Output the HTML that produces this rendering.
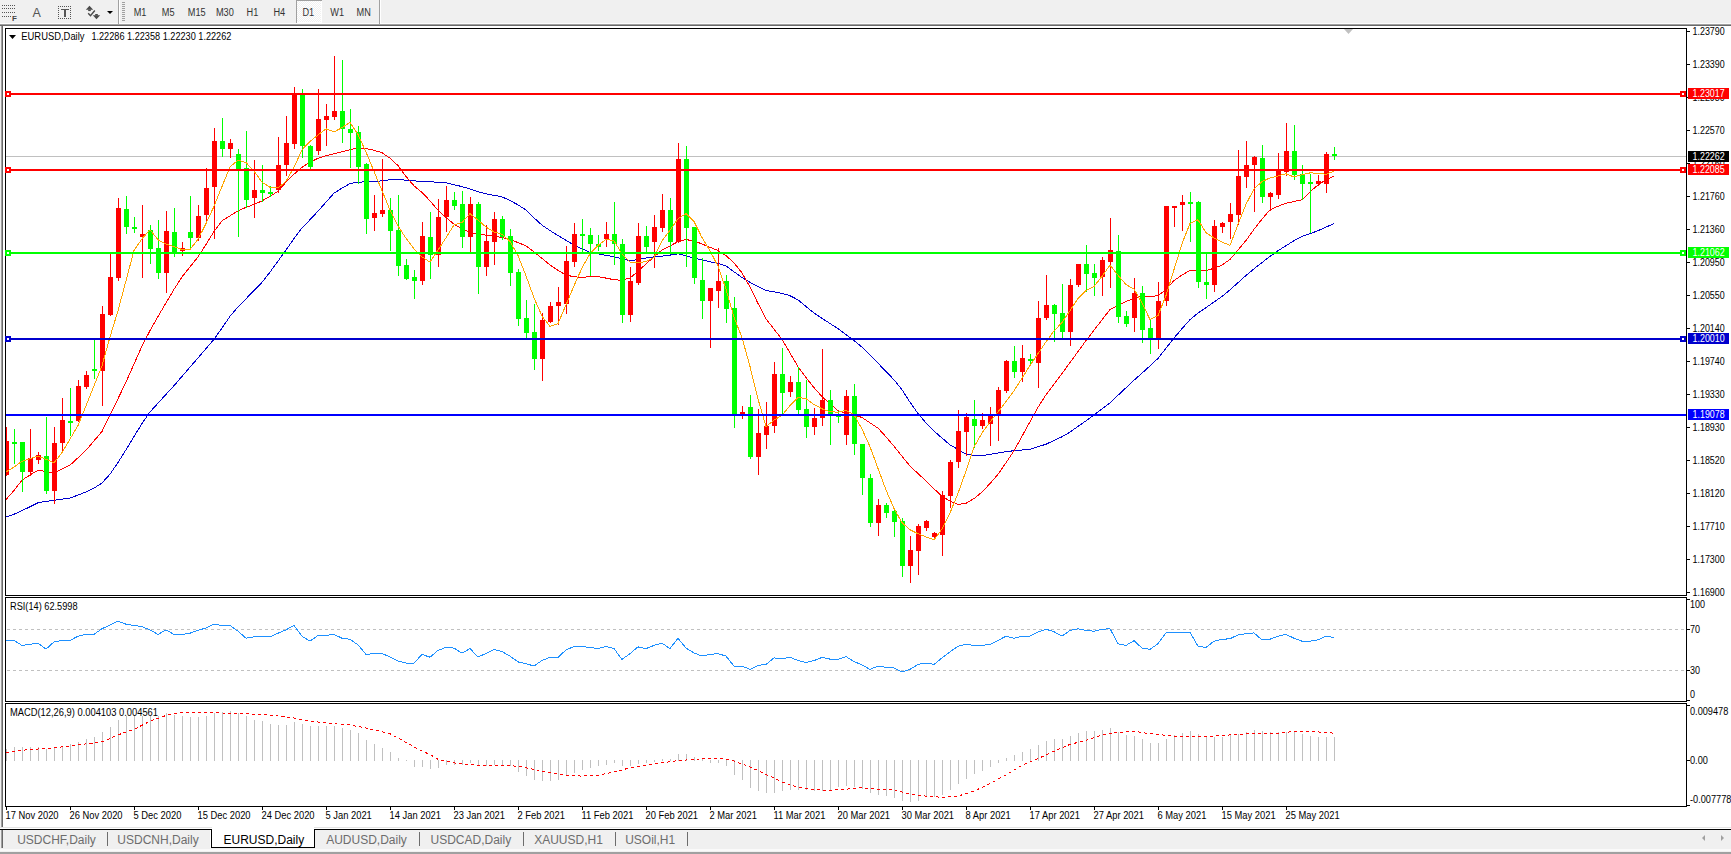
<!DOCTYPE html>
<html><head><meta charset="utf-8"><title>EURUSD,Daily</title>
<style>html,body{margin:0;padding:0;width:1731px;height:854px;overflow:hidden;background:#f0f0f0}</style>
</head><body>
<svg width="1731" height="854" viewBox="0 0 1731 854" style="display:block"><rect x="0" y="0" width="1731" height="854" fill="#f0f0f0"/><g shape-rendering="crispEdges"><rect x="0" y="23" width="1731" height="1" fill="#fcfcfc"/><rect x="0" y="24" width="1731" height="1" fill="#a0a0a0"/><rect x="0" y="25" width="1731" height="1" fill="#696969"/><rect x="3" y="26" width="1728" height="801" fill="#ffffff"/><rect x="1" y="26" width="1" height="801" fill="#a0a0a0"/><rect x="2" y="26" width="1" height="801" fill="#696969"/><rect x="0" y="827" width="1731" height="1" fill="#e3e3e3"/><rect x="0" y="828" width="1731" height="1" fill="#ffffff"/><rect x="118" y="0" width="1" height="24" fill="#a0a0a0"/><rect x="119" y="0" width="1" height="24" fill="#ffffff"/><rect x="379" y="0" width="1" height="24" fill="#a0a0a0"/><rect x="380" y="0" width="1" height="24" fill="#ffffff"/><rect x="122" y="2" width="3" height="1" fill="#a0a0a0"/><rect x="122" y="4" width="3" height="1" fill="#a0a0a0"/><rect x="122" y="6" width="3" height="1" fill="#a0a0a0"/><rect x="122" y="8" width="3" height="1" fill="#a0a0a0"/><rect x="122" y="10" width="3" height="1" fill="#a0a0a0"/><rect x="122" y="12" width="3" height="1" fill="#a0a0a0"/><rect x="122" y="14" width="3" height="1" fill="#a0a0a0"/><rect x="122" y="16" width="3" height="1" fill="#a0a0a0"/><rect x="122" y="18" width="3" height="1" fill="#a0a0a0"/><rect x="122" y="20" width="3" height="1" fill="#a0a0a0"/><defs><pattern id="chk" x="0" y="0" width="2" height="2" patternUnits="userSpaceOnUse"><rect width="2" height="2" fill="#f0f0f0"/><rect width="1" height="1" fill="#ffffff"/><rect x="1" y="1" width="1" height="1" fill="#ffffff"/></pattern></defs><rect x="297" y="1" width="24" height="21" fill="url(#chk)"/><rect x="321" y="0" width="1" height="23" fill="#ffffff"/><rect x="297" y="22" width="25" height="1" fill="#ffffff"/><rect x="296" y="0" width="26" height="1" fill="#a0a0a0"/><rect x="296" y="0" width="1" height="23" fill="#a0a0a0"/></g><g fill="#555555" shape-rendering="crispEdges"><rect x="2" y="5" width="1" height="1"/><rect x="4" y="5" width="1" height="1"/><rect x="6" y="5" width="1" height="1"/><rect x="8" y="5" width="1" height="1"/><rect x="10" y="5" width="1" height="1"/><rect x="12" y="5" width="1" height="1"/><rect x="14" y="5" width="1" height="1"/><rect x="2" y="8" width="1" height="1"/><rect x="4" y="8" width="1" height="1"/><rect x="6" y="8" width="1" height="1"/><rect x="8" y="8" width="1" height="1"/><rect x="10" y="8" width="1" height="1"/><rect x="12" y="8" width="1" height="1"/><rect x="14" y="8" width="1" height="1"/><rect x="2" y="12" width="1" height="1"/><rect x="4" y="12" width="1" height="1"/><rect x="6" y="12" width="1" height="1"/><rect x="8" y="12" width="1" height="1"/><rect x="10" y="12" width="1" height="1"/><rect x="12" y="12" width="1" height="1"/><rect x="14" y="12" width="1" height="1"/><rect x="2" y="16" width="1" height="1"/><rect x="4" y="16" width="1" height="1"/><rect x="6" y="16" width="1" height="1"/><rect x="8" y="16" width="1" height="1"/><rect x="10" y="16" width="1" height="1"/></g><text x="12" y="21" font-family='"Liberation Sans", sans-serif' font-size="8" font-weight="bold" fill="#444">F</text><text x="32.5" y="17" font-family='"Liberation Sans", sans-serif' font-size="12.5" fill="#555">A</text><g fill="#555555" shape-rendering="crispEdges"><rect x="58" y="6" width="1" height="1"/><rect x="58" y="18" width="1" height="1"/><rect x="60" y="6" width="1" height="1"/><rect x="60" y="18" width="1" height="1"/><rect x="62" y="6" width="1" height="1"/><rect x="62" y="18" width="1" height="1"/><rect x="64" y="6" width="1" height="1"/><rect x="64" y="18" width="1" height="1"/><rect x="66" y="6" width="1" height="1"/><rect x="66" y="18" width="1" height="1"/><rect x="68" y="6" width="1" height="1"/><rect x="68" y="18" width="1" height="1"/><rect x="70" y="6" width="1" height="1"/><rect x="70" y="18" width="1" height="1"/><rect x="58" y="6" width="1" height="1"/><rect x="70" y="6" width="1" height="1"/><rect x="58" y="8" width="1" height="1"/><rect x="70" y="8" width="1" height="1"/><rect x="58" y="10" width="1" height="1"/><rect x="70" y="10" width="1" height="1"/><rect x="58" y="12" width="1" height="1"/><rect x="70" y="12" width="1" height="1"/><rect x="58" y="14" width="1" height="1"/><rect x="70" y="14" width="1" height="1"/><rect x="58" y="16" width="1" height="1"/><rect x="70" y="16" width="1" height="1"/><rect x="58" y="18" width="1" height="1"/><rect x="70" y="18" width="1" height="1"/><rect x="61" y="9" width="8" height="1.4"/><rect x="64.2" y="9" width="1.6" height="8"/></g><g fill="#4a4a4a"><path d="M85.8 9.8 L89.5 5.8 L93.2 9.8 Z"/><rect x="88.2" y="9.5" width="2.6" height="1.6"/><path d="M92.8 15.2 L100.2 15.2 L96.5 19.2 Z"/><rect x="95.2" y="14" width="2.6" height="1.6"/></g><path d="M88.2 13.3 L90.5 15.8 L94.8 10.5" stroke="#4a4a4a" stroke-width="1.4" fill="none"/><path d="M107 11 L113 11 L110 14 Z" fill="#000"/><text x="133.7" y="16" font-family='"Liberation Sans", sans-serif' font-size="10.0" fill="#333333" textLength="12.75" lengthAdjust="spacingAndGlyphs">M1</text><text x="161.8" y="16" font-family='"Liberation Sans", sans-serif' font-size="10.0" fill="#333333" textLength="12.75" lengthAdjust="spacingAndGlyphs">M5</text><text x="187.8" y="16" font-family='"Liberation Sans", sans-serif' font-size="10.0" fill="#333333" textLength="17.86" lengthAdjust="spacingAndGlyphs">M15</text><text x="215.9" y="16" font-family='"Liberation Sans", sans-serif' font-size="10.0" fill="#333333" textLength="17.86" lengthAdjust="spacingAndGlyphs">M30</text><text x="246.6" y="16" font-family='"Liberation Sans", sans-serif' font-size="10.0" fill="#333333" textLength="11.73" lengthAdjust="spacingAndGlyphs">H1</text><text x="273.4" y="16" font-family='"Liberation Sans", sans-serif' font-size="10.0" fill="#333333" textLength="11.73" lengthAdjust="spacingAndGlyphs">H4</text><text x="302.5" y="16" font-family='"Liberation Sans", sans-serif' font-size="10.0" fill="#333333" textLength="11.73" lengthAdjust="spacingAndGlyphs">D1</text><text x="330.3" y="16" font-family='"Liberation Sans", sans-serif' font-size="10.0" fill="#333333" textLength="13.77" lengthAdjust="spacingAndGlyphs">W1</text><text x="356.6" y="16" font-family='"Liberation Sans", sans-serif' font-size="10.0" fill="#333333" textLength="14.28" lengthAdjust="spacingAndGlyphs">MN</text><g shape-rendering="crispEdges" fill="#000"><rect x="5" y="28" width="1682" height="1"/><rect x="5" y="595" width="1682" height="1"/><rect x="5" y="28" width="1" height="568"/><rect x="1686" y="28" width="1" height="568"/><rect x="5" y="597" width="1682" height="1"/><rect x="5" y="701" width="1682" height="1"/><rect x="5" y="597" width="1" height="105"/><rect x="1686" y="597" width="1" height="105"/><rect x="5" y="703" width="1682" height="1"/><rect x="5" y="806" width="1682" height="1"/><rect x="5" y="703" width="1" height="104"/><rect x="1686" y="703" width="1" height="104"/></g><path d="M1344 29 L1353 29 L1348.5 34 Z" fill="#c0c0c0"/><g shape-rendering="crispEdges" fill="#000"><rect x="1687" y="31" width="3" height="1"/><rect x="1687" y="64" width="3" height="1"/><rect x="1687" y="97" width="3" height="1"/><rect x="1687" y="130" width="3" height="1"/><rect x="1687" y="163" width="3" height="1"/><rect x="1687" y="196" width="3" height="1"/><rect x="1687" y="229" width="3" height="1"/><rect x="1687" y="262" width="3" height="1"/><rect x="1687" y="295" width="3" height="1"/><rect x="1687" y="328" width="3" height="1"/><rect x="1687" y="361" width="3" height="1"/><rect x="1687" y="394" width="3" height="1"/><rect x="1687" y="427" width="3" height="1"/><rect x="1687" y="460" width="3" height="1"/><rect x="1687" y="493" width="3" height="1"/><rect x="1687" y="526" width="3" height="1"/><rect x="1687" y="559" width="3" height="1"/><rect x="1687" y="592" width="3" height="1"/></g><text x="1692.5" y="35" font-family='"Liberation Sans", sans-serif' font-size="10.0" fill="#000" textLength="32.20" lengthAdjust="spacingAndGlyphs">1.23790</text><text x="1692.5" y="68" font-family='"Liberation Sans", sans-serif' font-size="10.0" fill="#000" textLength="32.20" lengthAdjust="spacingAndGlyphs">1.23390</text><text x="1692.5" y="101" font-family='"Liberation Sans", sans-serif' font-size="10.0" fill="#000" textLength="32.20" lengthAdjust="spacingAndGlyphs">1.22980</text><text x="1692.5" y="134" font-family='"Liberation Sans", sans-serif' font-size="10.0" fill="#000" textLength="32.20" lengthAdjust="spacingAndGlyphs">1.22570</text><text x="1692.5" y="167" font-family='"Liberation Sans", sans-serif' font-size="10.0" fill="#000" textLength="32.20" lengthAdjust="spacingAndGlyphs">1.22160</text><text x="1692.5" y="200" font-family='"Liberation Sans", sans-serif' font-size="10.0" fill="#000" textLength="32.20" lengthAdjust="spacingAndGlyphs">1.21760</text><text x="1692.5" y="233" font-family='"Liberation Sans", sans-serif' font-size="10.0" fill="#000" textLength="32.20" lengthAdjust="spacingAndGlyphs">1.21360</text><text x="1692.5" y="266" font-family='"Liberation Sans", sans-serif' font-size="10.0" fill="#000" textLength="32.20" lengthAdjust="spacingAndGlyphs">1.20950</text><text x="1692.5" y="299" font-family='"Liberation Sans", sans-serif' font-size="10.0" fill="#000" textLength="32.20" lengthAdjust="spacingAndGlyphs">1.20550</text><text x="1692.5" y="332" font-family='"Liberation Sans", sans-serif' font-size="10.0" fill="#000" textLength="32.20" lengthAdjust="spacingAndGlyphs">1.20140</text><text x="1692.5" y="365" font-family='"Liberation Sans", sans-serif' font-size="10.0" fill="#000" textLength="32.20" lengthAdjust="spacingAndGlyphs">1.19740</text><text x="1692.5" y="398" font-family='"Liberation Sans", sans-serif' font-size="10.0" fill="#000" textLength="32.20" lengthAdjust="spacingAndGlyphs">1.19330</text><text x="1692.5" y="431" font-family='"Liberation Sans", sans-serif' font-size="10.0" fill="#000" textLength="32.20" lengthAdjust="spacingAndGlyphs">1.18930</text><text x="1692.5" y="464" font-family='"Liberation Sans", sans-serif' font-size="10.0" fill="#000" textLength="32.20" lengthAdjust="spacingAndGlyphs">1.18520</text><text x="1692.5" y="497" font-family='"Liberation Sans", sans-serif' font-size="10.0" fill="#000" textLength="32.20" lengthAdjust="spacingAndGlyphs">1.18120</text><text x="1692.5" y="530" font-family='"Liberation Sans", sans-serif' font-size="10.0" fill="#000" textLength="32.20" lengthAdjust="spacingAndGlyphs">1.17710</text><text x="1692.5" y="563" font-family='"Liberation Sans", sans-serif' font-size="10.0" fill="#000" textLength="32.20" lengthAdjust="spacingAndGlyphs">1.17300</text><text x="1692.5" y="596" font-family='"Liberation Sans", sans-serif' font-size="10.0" fill="#000" textLength="32.20" lengthAdjust="spacingAndGlyphs">1.16900</text><defs><clipPath id="cm"><rect x="6" y="29" width="1680" height="566"/></clipPath><clipPath id="cr"><rect x="6" y="598" width="1680" height="103"/></clipPath><clipPath id="cd"><rect x="6" y="704" width="1680" height="102"/></clipPath></defs><g clip-path="url(#cm)"><rect x="6" y="156" width="1680" height="1" fill="#c0c0c0" shape-rendering="crispEdges"/><polyline points="6.0,517.0 14.0,514.2 22.0,510.7 30.0,506.7 38.0,502.7 46.0,501.4 54.0,500.3 62.0,499.2 70.0,498.0 78.0,495.1 86.0,492.0 94.0,488.2 102.0,483.0 110.0,474.2 118.0,462.5 126.0,449.7 134.0,436.6 142.0,423.5 150.0,411.9 158.0,403.2 166.0,394.4 174.0,385.7 182.0,376.4 190.0,367.1 198.0,357.9 206.0,348.6 214.0,339.3 222.0,328.1 230.0,316.3 238.0,307.0 246.0,298.8 254.0,290.5 262.0,282.3 270.0,272.1 278.0,261.1 286.0,250.0 294.0,238.6 302.0,227.9 310.0,219.7 318.0,211.2 326.0,202.2 334.0,193.2 342.0,188.1 350.0,183.6 358.0,182.1 366.0,181.9 374.0,181.7 382.0,180.8 390.0,179.8 398.0,179.5 406.0,180.2 414.0,180.9 422.0,181.4 430.0,181.8 438.0,182.2 446.0,182.8 454.0,184.7 462.0,186.6 470.0,189.0 478.0,191.7 486.0,193.8 494.0,195.3 502.0,196.9 510.0,200.4 518.0,204.9 526.0,210.0 534.0,217.9 542.0,225.1 550.0,230.5 558.0,235.6 566.0,240.3 574.0,245.0 582.0,248.8 590.0,252.4 598.0,253.8 606.0,255.3 614.0,256.8 622.0,258.7 630.0,260.7 638.0,259.6 646.0,258.0 654.0,256.9 662.0,256.2 670.0,255.1 678.0,253.8 686.0,255.6 694.0,258.2 702.0,260.0 710.0,261.7 718.0,263.5 726.0,265.9 734.0,271.8 742.0,277.6 750.0,282.3 758.0,286.4 766.0,290.5 774.0,291.9 782.0,293.3 790.0,295.7 798.0,299.9 806.0,306.5 814.0,313.0 822.0,318.3 830.0,323.5 838.0,328.7 846.0,334.5 854.0,340.6 862.0,347.2 870.0,355.2 878.0,363.2 886.0,371.5 894.0,379.8 902.0,389.7 910.0,402.2 918.0,413.5 926.0,422.9 934.0,431.1 942.0,438.0 950.0,444.9 958.0,449.5 966.0,454.1 974.0,455.5 982.0,455.7 990.0,454.4 998.0,453.0 1006.0,451.7 1014.0,450.7 1022.0,450.0 1030.0,449.2 1038.0,446.8 1046.0,444.2 1054.0,440.5 1062.0,436.8 1070.0,432.1 1078.0,426.4 1086.0,420.8 1094.0,415.0 1102.0,408.9 1110.0,402.8 1118.0,395.3 1126.0,387.8 1134.0,380.3 1142.0,373.1 1150.0,365.9 1158.0,358.4 1166.0,348.2 1174.0,338.0 1182.0,328.7 1190.0,319.6 1198.0,313.1 1206.0,307.6 1214.0,302.0 1222.0,296.5 1230.0,289.9 1238.0,282.7 1246.0,275.5 1254.0,268.8 1262.0,262.6 1270.0,256.4 1278.0,250.7 1286.0,245.7 1294.0,240.7 1302.0,236.4 1310.0,233.7 1318.0,230.7 1326.0,227.1 1334.0,223.5" fill="none" stroke="#0000cd" stroke-width="1" shape-rendering="crispEdges"/><polyline points="6.0,499.5 14.0,490.5 22.0,480.1 30.0,475.0 38.0,470.2 46.0,471.4 54.0,472.9 62.0,469.2 70.0,465.2 78.0,457.8 86.0,450.3 94.0,440.9 102.0,431.4 110.0,415.0 118.0,398.7 126.0,382.1 134.0,364.1 142.0,346.1 150.0,330.6 158.0,316.5 166.0,302.9 174.0,289.4 182.0,276.9 190.0,266.9 198.0,256.9 206.0,244.5 214.0,231.5 222.0,220.8 230.0,215.8 238.0,210.9 246.0,207.4 254.0,204.4 262.0,200.9 270.0,196.4 278.0,191.3 286.0,182.1 294.0,174.2 302.0,167.3 310.0,162.2 318.0,158.2 326.0,155.7 334.0,153.7 342.0,151.7 350.0,149.8 358.0,147.8 366.0,148.5 374.0,150.3 382.0,152.7 390.0,158.2 398.0,165.6 406.0,176.5 414.0,185.8 422.0,192.5 430.0,200.8 438.0,210.2 446.0,217.5 454.0,224.2 462.0,228.5 470.0,232.4 478.0,233.8 486.0,235.1 494.0,236.3 502.0,237.5 510.0,239.7 518.0,242.5 526.0,245.9 534.0,251.8 542.0,258.4 550.0,265.0 558.0,270.4 566.0,275.1 574.0,276.7 582.0,277.5 590.0,276.6 598.0,276.6 606.0,278.1 614.0,279.7 622.0,280.3 630.0,277.9 638.0,271.6 646.0,263.8 654.0,256.9 662.0,250.0 670.0,245.9 678.0,241.6 686.0,239.6 694.0,240.9 702.0,244.0 710.0,247.3 718.0,250.5 726.0,255.6 734.0,262.8 742.0,272.9 750.0,287.1 758.0,303.4 766.0,318.8 774.0,329.1 782.0,339.4 790.0,353.0 798.0,366.7 806.0,377.6 814.0,387.6 822.0,396.7 830.0,403.7 838.0,410.7 846.0,413.4 854.0,414.9 862.0,417.5 870.0,422.8 878.0,428.1 886.0,436.8 894.0,446.2 902.0,456.2 910.0,466.1 918.0,473.5 926.0,481.0 934.0,488.9 942.0,496.1 950.0,501.1 958.0,504.4 966.0,503.3 974.0,498.6 982.0,492.0 990.0,483.6 998.0,474.3 1006.0,462.8 1014.0,450.7 1022.0,436.3 1030.0,421.7 1038.0,407.3 1046.0,394.8 1054.0,384.1 1062.0,373.5 1070.0,362.6 1078.0,351.6 1086.0,340.6 1094.0,330.2 1102.0,319.8 1110.0,309.6 1118.0,305.6 1126.0,301.6 1134.0,298.2 1142.0,296.2 1150.0,297.0 1158.0,295.4 1166.0,289.8 1174.0,280.5 1182.0,275.1 1190.0,270.2 1198.0,270.6 1206.0,270.6 1214.0,268.3 1222.0,265.1 1230.0,259.4 1238.0,250.1 1246.0,240.5 1254.0,229.3 1262.0,219.1 1270.0,209.7 1278.0,206.3 1286.0,203.2 1294.0,201.5 1302.0,199.8 1310.0,191.9 1318.0,184.9 1326.0,179.7 1334.0,176.1" fill="none" stroke="#ff0000" stroke-width="1" shape-rendering="crispEdges"/><g shape-rendering="crispEdges"><rect x="6" y="427" width="1" height="49" fill="#ff0000"/><rect x="4" y="441" width="5" height="34" fill="#ff0000"/><rect x="14" y="429" width="1" height="35" fill="#00ff00"/><rect x="12" y="442" width="5" height="2" fill="#00ff00"/><rect x="22" y="442" width="1" height="50" fill="#00ff00"/><rect x="20" y="442" width="5" height="30" fill="#00ff00"/><rect x="30" y="429" width="1" height="47" fill="#ff0000"/><rect x="28" y="458" width="5" height="14" fill="#ff0000"/><rect x="38" y="452" width="1" height="12" fill="#ff0000"/><rect x="36" y="455" width="5" height="5" fill="#ff0000"/><rect x="46" y="417" width="1" height="77" fill="#00ff00"/><rect x="44" y="456" width="5" height="35" fill="#00ff00"/><rect x="54" y="427" width="1" height="77" fill="#ff0000"/><rect x="52" y="443" width="5" height="48" fill="#ff0000"/><rect x="62" y="398" width="1" height="54" fill="#ff0000"/><rect x="60" y="420" width="5" height="23" fill="#ff0000"/><rect x="70" y="388" width="1" height="48" fill="#00ff00"/><rect x="68" y="421" width="5" height="2" fill="#00ff00"/><rect x="78" y="380" width="1" height="42" fill="#ff0000"/><rect x="76" y="386" width="5" height="35" fill="#ff0000"/><rect x="86" y="371" width="1" height="18" fill="#ff0000"/><rect x="84" y="375" width="5" height="12" fill="#ff0000"/><rect x="94" y="340" width="1" height="39" fill="#00ff00"/><rect x="92" y="369" width="5" height="2" fill="#00ff00"/><rect x="102" y="306" width="1" height="100" fill="#ff0000"/><rect x="100" y="314" width="5" height="57" fill="#ff0000"/><rect x="110" y="254" width="1" height="62" fill="#ff0000"/><rect x="108" y="277" width="5" height="38" fill="#ff0000"/><rect x="118" y="198" width="1" height="83" fill="#ff0000"/><rect x="116" y="208" width="5" height="70" fill="#ff0000"/><rect x="126" y="196" width="1" height="38" fill="#00ff00"/><rect x="124" y="209" width="5" height="18" fill="#00ff00"/><rect x="134" y="217" width="1" height="16" fill="#00ff00"/><rect x="132" y="227" width="5" height="2" fill="#00ff00"/><rect x="142" y="205" width="1" height="73" fill="#ff0000"/><rect x="140" y="234" width="5" height="3" fill="#ff0000"/><rect x="150" y="225" width="1" height="39" fill="#00ff00"/><rect x="148" y="230" width="5" height="19" fill="#00ff00"/><rect x="158" y="220" width="1" height="59" fill="#00ff00"/><rect x="156" y="248" width="5" height="25" fill="#00ff00"/><rect x="166" y="211" width="1" height="82" fill="#ff0000"/><rect x="164" y="231" width="5" height="42" fill="#ff0000"/><rect x="174" y="208" width="1" height="49" fill="#00ff00"/><rect x="172" y="232" width="5" height="22" fill="#00ff00"/><rect x="182" y="242" width="1" height="14" fill="#ff0000"/><rect x="180" y="248" width="5" height="3" fill="#ff0000"/><rect x="190" y="196" width="1" height="52" fill="#00ff00"/><rect x="188" y="232" width="5" height="6" fill="#00ff00"/><rect x="198" y="205" width="1" height="36" fill="#ff0000"/><rect x="196" y="216" width="5" height="22" fill="#ff0000"/><rect x="206" y="168" width="1" height="55" fill="#ff0000"/><rect x="204" y="188" width="5" height="27" fill="#ff0000"/><rect x="214" y="128" width="1" height="111" fill="#ff0000"/><rect x="212" y="141" width="5" height="46" fill="#ff0000"/><rect x="222" y="118" width="1" height="39" fill="#00ff00"/><rect x="220" y="141" width="5" height="8" fill="#00ff00"/><rect x="230" y="139" width="1" height="19" fill="#ff0000"/><rect x="228" y="143" width="5" height="6" fill="#ff0000"/><rect x="238" y="149" width="1" height="88" fill="#00ff00"/><rect x="236" y="154" width="5" height="15" fill="#00ff00"/><rect x="246" y="131" width="1" height="77" fill="#00ff00"/><rect x="244" y="168" width="5" height="32" fill="#00ff00"/><rect x="254" y="160" width="1" height="58" fill="#ff0000"/><rect x="252" y="190" width="5" height="8" fill="#ff0000"/><rect x="262" y="165" width="1" height="37" fill="#00ff00"/><rect x="260" y="190" width="5" height="3" fill="#00ff00"/><rect x="270" y="186" width="1" height="11" fill="#00ff00"/><rect x="268" y="192" width="5" height="2" fill="#00ff00"/><rect x="278" y="137" width="1" height="56" fill="#ff0000"/><rect x="276" y="165" width="5" height="25" fill="#ff0000"/><rect x="286" y="116" width="1" height="60" fill="#ff0000"/><rect x="284" y="143" width="5" height="22" fill="#ff0000"/><rect x="294" y="87" width="1" height="62" fill="#ff0000"/><rect x="292" y="94" width="5" height="50" fill="#ff0000"/><rect x="302" y="89" width="1" height="69" fill="#00ff00"/><rect x="300" y="95" width="5" height="51" fill="#00ff00"/><rect x="310" y="145" width="1" height="24" fill="#00ff00"/><rect x="308" y="146" width="5" height="21" fill="#00ff00"/><rect x="318" y="89" width="1" height="66" fill="#ff0000"/><rect x="316" y="119" width="5" height="32" fill="#ff0000"/><rect x="326" y="104" width="1" height="42" fill="#ff0000"/><rect x="324" y="116" width="5" height="4" fill="#ff0000"/><rect x="334" y="56" width="1" height="64" fill="#ff0000"/><rect x="332" y="111" width="5" height="6" fill="#ff0000"/><rect x="342" y="60" width="1" height="83" fill="#00ff00"/><rect x="340" y="111" width="5" height="18" fill="#00ff00"/><rect x="350" y="109" width="1" height="59" fill="#00ff00"/><rect x="348" y="129" width="5" height="4" fill="#00ff00"/><rect x="358" y="126" width="1" height="58" fill="#00ff00"/><rect x="356" y="132" width="5" height="35" fill="#00ff00"/><rect x="366" y="163" width="1" height="71" fill="#00ff00"/><rect x="364" y="164" width="5" height="55" fill="#00ff00"/><rect x="374" y="195" width="1" height="36" fill="#ff0000"/><rect x="372" y="213" width="5" height="5" fill="#ff0000"/><rect x="382" y="159" width="1" height="58" fill="#ff0000"/><rect x="380" y="210" width="5" height="4" fill="#ff0000"/><rect x="390" y="198" width="1" height="53" fill="#00ff00"/><rect x="388" y="210" width="5" height="21" fill="#00ff00"/><rect x="398" y="195" width="1" height="81" fill="#00ff00"/><rect x="396" y="230" width="5" height="36" fill="#00ff00"/><rect x="406" y="259" width="1" height="21" fill="#00ff00"/><rect x="404" y="265" width="5" height="14" fill="#00ff00"/><rect x="414" y="270" width="1" height="29" fill="#00ff00"/><rect x="412" y="277" width="5" height="4" fill="#00ff00"/><rect x="422" y="222" width="1" height="63" fill="#ff0000"/><rect x="420" y="236" width="5" height="45" fill="#ff0000"/><rect x="430" y="212" width="1" height="67" fill="#00ff00"/><rect x="428" y="237" width="5" height="18" fill="#00ff00"/><rect x="438" y="199" width="1" height="68" fill="#ff0000"/><rect x="436" y="217" width="5" height="38" fill="#ff0000"/><rect x="446" y="186" width="1" height="46" fill="#ff0000"/><rect x="444" y="200" width="5" height="17" fill="#ff0000"/><rect x="454" y="192" width="1" height="18" fill="#00ff00"/><rect x="452" y="200" width="5" height="6" fill="#00ff00"/><rect x="462" y="191" width="1" height="57" fill="#00ff00"/><rect x="460" y="204" width="5" height="33" fill="#00ff00"/><rect x="470" y="197" width="1" height="56" fill="#ff0000"/><rect x="468" y="204" width="5" height="33" fill="#ff0000"/><rect x="478" y="202" width="1" height="92" fill="#00ff00"/><rect x="476" y="204" width="5" height="63" fill="#00ff00"/><rect x="486" y="225" width="1" height="51" fill="#ff0000"/><rect x="484" y="241" width="5" height="26" fill="#ff0000"/><rect x="494" y="212" width="1" height="53" fill="#ff0000"/><rect x="492" y="219" width="5" height="23" fill="#ff0000"/><rect x="502" y="216" width="1" height="24" fill="#00ff00"/><rect x="500" y="219" width="5" height="18" fill="#00ff00"/><rect x="510" y="229" width="1" height="57" fill="#00ff00"/><rect x="508" y="236" width="5" height="37" fill="#00ff00"/><rect x="518" y="269" width="1" height="57" fill="#00ff00"/><rect x="516" y="272" width="5" height="47" fill="#00ff00"/><rect x="526" y="300" width="1" height="39" fill="#00ff00"/><rect x="524" y="318" width="5" height="15" fill="#00ff00"/><rect x="534" y="304" width="1" height="66" fill="#00ff00"/><rect x="532" y="332" width="5" height="27" fill="#00ff00"/><rect x="542" y="313" width="1" height="68" fill="#ff0000"/><rect x="540" y="320" width="5" height="39" fill="#ff0000"/><rect x="550" y="302" width="1" height="21" fill="#ff0000"/><rect x="548" y="306" width="5" height="16" fill="#ff0000"/><rect x="558" y="287" width="1" height="38" fill="#ff0000"/><rect x="556" y="302" width="5" height="4" fill="#ff0000"/><rect x="566" y="246" width="1" height="68" fill="#ff0000"/><rect x="564" y="261" width="5" height="43" fill="#ff0000"/><rect x="574" y="223" width="1" height="44" fill="#ff0000"/><rect x="572" y="234" width="5" height="28" fill="#ff0000"/><rect x="582" y="219" width="1" height="34" fill="#00ff00"/><rect x="580" y="234" width="5" height="2" fill="#00ff00"/><rect x="590" y="228" width="1" height="48" fill="#00ff00"/><rect x="588" y="235" width="5" height="9" fill="#00ff00"/><rect x="598" y="235" width="1" height="16" fill="#00ff00"/><rect x="596" y="244" width="5" height="3" fill="#00ff00"/><rect x="606" y="222" width="1" height="25" fill="#ff0000"/><rect x="604" y="234" width="5" height="5" fill="#ff0000"/><rect x="614" y="202" width="1" height="63" fill="#00ff00"/><rect x="612" y="234" width="5" height="10" fill="#00ff00"/><rect x="622" y="239" width="1" height="84" fill="#00ff00"/><rect x="620" y="244" width="5" height="71" fill="#00ff00"/><rect x="630" y="267" width="1" height="55" fill="#ff0000"/><rect x="628" y="281" width="5" height="34" fill="#ff0000"/><rect x="638" y="223" width="1" height="62" fill="#ff0000"/><rect x="636" y="236" width="5" height="47" fill="#ff0000"/><rect x="646" y="226" width="1" height="27" fill="#00ff00"/><rect x="644" y="236" width="5" height="11" fill="#00ff00"/><rect x="654" y="215" width="1" height="53" fill="#ff0000"/><rect x="652" y="227" width="5" height="15" fill="#ff0000"/><rect x="662" y="194" width="1" height="38" fill="#ff0000"/><rect x="660" y="210" width="5" height="18" fill="#ff0000"/><rect x="670" y="198" width="1" height="55" fill="#00ff00"/><rect x="668" y="210" width="5" height="32" fill="#00ff00"/><rect x="678" y="143" width="1" height="100" fill="#ff0000"/><rect x="676" y="159" width="5" height="83" fill="#ff0000"/><rect x="686" y="146" width="1" height="121" fill="#00ff00"/><rect x="684" y="159" width="5" height="69" fill="#00ff00"/><rect x="694" y="227" width="1" height="57" fill="#00ff00"/><rect x="692" y="227" width="5" height="51" fill="#00ff00"/><rect x="702" y="258" width="1" height="61" fill="#00ff00"/><rect x="700" y="280" width="5" height="21" fill="#00ff00"/><rect x="710" y="288" width="1" height="60" fill="#ff0000"/><rect x="708" y="288" width="5" height="13" fill="#ff0000"/><rect x="718" y="248" width="1" height="60" fill="#ff0000"/><rect x="716" y="281" width="5" height="10" fill="#ff0000"/><rect x="726" y="275" width="1" height="48" fill="#00ff00"/><rect x="724" y="281" width="5" height="28" fill="#00ff00"/><rect x="734" y="297" width="1" height="131" fill="#00ff00"/><rect x="732" y="308" width="5" height="108" fill="#00ff00"/><rect x="742" y="406" width="1" height="13" fill="#ff0000"/><rect x="740" y="412" width="5" height="3" fill="#ff0000"/><rect x="750" y="395" width="1" height="64" fill="#00ff00"/><rect x="748" y="407" width="5" height="50" fill="#00ff00"/><rect x="758" y="409" width="1" height="66" fill="#ff0000"/><rect x="756" y="433" width="5" height="24" fill="#ff0000"/><rect x="766" y="402" width="1" height="47" fill="#ff0000"/><rect x="764" y="426" width="5" height="9" fill="#ff0000"/><rect x="774" y="362" width="1" height="71" fill="#ff0000"/><rect x="772" y="374" width="5" height="52" fill="#ff0000"/><rect x="782" y="348" width="1" height="68" fill="#00ff00"/><rect x="780" y="374" width="5" height="19" fill="#00ff00"/><rect x="790" y="376" width="1" height="21" fill="#ff0000"/><rect x="788" y="382" width="5" height="10" fill="#ff0000"/><rect x="798" y="367" width="1" height="47" fill="#00ff00"/><rect x="796" y="382" width="5" height="28" fill="#00ff00"/><rect x="806" y="380" width="1" height="58" fill="#00ff00"/><rect x="804" y="409" width="5" height="18" fill="#00ff00"/><rect x="814" y="408" width="1" height="27" fill="#ff0000"/><rect x="812" y="418" width="5" height="9" fill="#ff0000"/><rect x="822" y="349" width="1" height="77" fill="#ff0000"/><rect x="820" y="400" width="5" height="18" fill="#ff0000"/><rect x="830" y="390" width="1" height="55" fill="#00ff00"/><rect x="828" y="400" width="5" height="15" fill="#00ff00"/><rect x="838" y="411" width="1" height="12" fill="#00ff00"/><rect x="836" y="415" width="5" height="2" fill="#00ff00"/><rect x="846" y="390" width="1" height="55" fill="#ff0000"/><rect x="844" y="396" width="5" height="39" fill="#ff0000"/><rect x="854" y="384" width="1" height="71" fill="#00ff00"/><rect x="852" y="396" width="5" height="48" fill="#00ff00"/><rect x="862" y="444" width="1" height="51" fill="#00ff00"/><rect x="860" y="444" width="5" height="34" fill="#00ff00"/><rect x="870" y="474" width="1" height="53" fill="#00ff00"/><rect x="868" y="478" width="5" height="45" fill="#00ff00"/><rect x="878" y="499" width="1" height="37" fill="#ff0000"/><rect x="876" y="505" width="5" height="18" fill="#ff0000"/><rect x="886" y="503" width="1" height="15" fill="#00ff00"/><rect x="884" y="505" width="5" height="8" fill="#00ff00"/><rect x="894" y="510" width="1" height="27" fill="#00ff00"/><rect x="892" y="511" width="5" height="11" fill="#00ff00"/><rect x="902" y="518" width="1" height="59" fill="#00ff00"/><rect x="900" y="521" width="5" height="45" fill="#00ff00"/><rect x="910" y="536" width="1" height="47" fill="#ff0000"/><rect x="908" y="550" width="5" height="16" fill="#ff0000"/><rect x="918" y="524" width="1" height="51" fill="#ff0000"/><rect x="916" y="526" width="5" height="25" fill="#ff0000"/><rect x="926" y="520" width="1" height="11" fill="#ff0000"/><rect x="924" y="521" width="5" height="7" fill="#ff0000"/><rect x="934" y="532" width="1" height="7" fill="#ff0000"/><rect x="932" y="533" width="5" height="4" fill="#ff0000"/><rect x="942" y="491" width="1" height="65" fill="#ff0000"/><rect x="940" y="495" width="5" height="40" fill="#ff0000"/><rect x="950" y="460" width="1" height="48" fill="#ff0000"/><rect x="948" y="462" width="5" height="34" fill="#ff0000"/><rect x="958" y="410" width="1" height="58" fill="#ff0000"/><rect x="956" y="431" width="5" height="31" fill="#ff0000"/><rect x="966" y="413" width="1" height="43" fill="#ff0000"/><rect x="964" y="417" width="5" height="15" fill="#ff0000"/><rect x="974" y="400" width="1" height="48" fill="#00ff00"/><rect x="972" y="419" width="5" height="7" fill="#00ff00"/><rect x="982" y="413" width="1" height="16" fill="#ff0000"/><rect x="980" y="420" width="5" height="6" fill="#ff0000"/><rect x="990" y="407" width="1" height="39" fill="#ff0000"/><rect x="988" y="416" width="5" height="8" fill="#ff0000"/><rect x="998" y="387" width="1" height="54" fill="#ff0000"/><rect x="996" y="390" width="5" height="26" fill="#ff0000"/><rect x="1006" y="360" width="1" height="33" fill="#ff0000"/><rect x="1004" y="361" width="5" height="30" fill="#ff0000"/><rect x="1014" y="346" width="1" height="32" fill="#00ff00"/><rect x="1012" y="361" width="5" height="11" fill="#00ff00"/><rect x="1022" y="345" width="1" height="37" fill="#ff0000"/><rect x="1020" y="358" width="5" height="14" fill="#ff0000"/><rect x="1030" y="354" width="1" height="12" fill="#00ff00"/><rect x="1028" y="359" width="5" height="2" fill="#00ff00"/><rect x="1038" y="301" width="1" height="87" fill="#ff0000"/><rect x="1036" y="318" width="5" height="45" fill="#ff0000"/><rect x="1046" y="275" width="1" height="45" fill="#ff0000"/><rect x="1044" y="305" width="5" height="13" fill="#ff0000"/><rect x="1054" y="304" width="1" height="38" fill="#00ff00"/><rect x="1052" y="305" width="5" height="9" fill="#00ff00"/><rect x="1062" y="284" width="1" height="55" fill="#00ff00"/><rect x="1060" y="313" width="5" height="19" fill="#00ff00"/><rect x="1070" y="279" width="1" height="67" fill="#ff0000"/><rect x="1068" y="285" width="5" height="47" fill="#ff0000"/><rect x="1078" y="264" width="1" height="23" fill="#ff0000"/><rect x="1076" y="264" width="5" height="21" fill="#ff0000"/><rect x="1086" y="245" width="1" height="47" fill="#00ff00"/><rect x="1084" y="264" width="5" height="10" fill="#00ff00"/><rect x="1094" y="264" width="1" height="32" fill="#00ff00"/><rect x="1092" y="273" width="5" height="5" fill="#00ff00"/><rect x="1102" y="257" width="1" height="39" fill="#ff0000"/><rect x="1100" y="260" width="5" height="17" fill="#ff0000"/><rect x="1110" y="218" width="1" height="70" fill="#ff0000"/><rect x="1108" y="250" width="5" height="12" fill="#ff0000"/><rect x="1118" y="235" width="1" height="88" fill="#00ff00"/><rect x="1116" y="251" width="5" height="66" fill="#00ff00"/><rect x="1126" y="311" width="1" height="16" fill="#00ff00"/><rect x="1124" y="316" width="5" height="8" fill="#00ff00"/><rect x="1134" y="278" width="1" height="54" fill="#ff0000"/><rect x="1132" y="293" width="5" height="25" fill="#ff0000"/><rect x="1142" y="286" width="1" height="57" fill="#00ff00"/><rect x="1140" y="293" width="5" height="37" fill="#00ff00"/><rect x="1150" y="320" width="1" height="34" fill="#00ff00"/><rect x="1148" y="328" width="5" height="10" fill="#00ff00"/><rect x="1158" y="282" width="1" height="67" fill="#ff0000"/><rect x="1156" y="301" width="5" height="38" fill="#ff0000"/><rect x="1166" y="206" width="1" height="100" fill="#ff0000"/><rect x="1164" y="206" width="5" height="95" fill="#ff0000"/><rect x="1174" y="206" width="1" height="21" fill="#ff0000"/><rect x="1172" y="206" width="5" height="2" fill="#ff0000"/><rect x="1182" y="195" width="1" height="36" fill="#ff0000"/><rect x="1180" y="202" width="5" height="3" fill="#ff0000"/><rect x="1190" y="192" width="1" height="50" fill="#00ff00"/><rect x="1188" y="202" width="5" height="2" fill="#00ff00"/><rect x="1198" y="201" width="1" height="87" fill="#00ff00"/><rect x="1196" y="202" width="5" height="80" fill="#00ff00"/><rect x="1206" y="253" width="1" height="46" fill="#00ff00"/><rect x="1204" y="282" width="5" height="3" fill="#00ff00"/><rect x="1214" y="220" width="1" height="72" fill="#ff0000"/><rect x="1212" y="226" width="5" height="59" fill="#ff0000"/><rect x="1222" y="222" width="1" height="11" fill="#ff0000"/><rect x="1220" y="223" width="5" height="4" fill="#ff0000"/><rect x="1230" y="203" width="1" height="36" fill="#ff0000"/><rect x="1228" y="214" width="5" height="8" fill="#ff0000"/><rect x="1238" y="150" width="1" height="75" fill="#ff0000"/><rect x="1236" y="176" width="5" height="39" fill="#ff0000"/><rect x="1246" y="141" width="1" height="47" fill="#ff0000"/><rect x="1244" y="165" width="5" height="12" fill="#ff0000"/><rect x="1254" y="156" width="1" height="56" fill="#ff0000"/><rect x="1252" y="157" width="5" height="8" fill="#ff0000"/><rect x="1262" y="145" width="1" height="58" fill="#00ff00"/><rect x="1260" y="158" width="5" height="39" fill="#00ff00"/><rect x="1270" y="192" width="1" height="19" fill="#ff0000"/><rect x="1268" y="193" width="5" height="4" fill="#ff0000"/><rect x="1278" y="153" width="1" height="46" fill="#ff0000"/><rect x="1276" y="171" width="5" height="24" fill="#ff0000"/><rect x="1286" y="123" width="1" height="53" fill="#ff0000"/><rect x="1284" y="151" width="5" height="21" fill="#ff0000"/><rect x="1294" y="125" width="1" height="55" fill="#00ff00"/><rect x="1292" y="151" width="5" height="24" fill="#00ff00"/><rect x="1302" y="165" width="1" height="35" fill="#00ff00"/><rect x="1300" y="174" width="5" height="10" fill="#00ff00"/><rect x="1310" y="174" width="1" height="59" fill="#00ff00"/><rect x="1308" y="182" width="5" height="2" fill="#00ff00"/><rect x="1318" y="175" width="1" height="11" fill="#ff0000"/><rect x="1316" y="181" width="5" height="3" fill="#ff0000"/><rect x="1326" y="152" width="1" height="41" fill="#ff0000"/><rect x="1324" y="154" width="5" height="30" fill="#ff0000"/><rect x="1334" y="147" width="1" height="13" fill="#00ff00"/><rect x="1332" y="154" width="5" height="2" fill="#00ff00"/></g><polyline points="6.0,472.0 14.0,467.0 22.0,461.3 30.0,458.6 38.0,456.1 46.0,459.3 54.0,462.8 62.0,452.6 70.0,439.1 78.0,425.5 86.0,405.8 94.0,385.8 102.0,365.8 110.0,337.0 118.0,310.7 126.0,280.6 134.0,250.4 142.0,238.8 150.0,229.8 158.0,239.8 166.0,244.0 174.0,246.6 182.0,249.6 190.0,249.4 198.0,239.3 206.0,223.6 214.0,206.3 222.0,186.5 230.0,167.0 238.0,160.1 246.0,162.6 254.0,171.0 262.0,182.2 270.0,187.3 278.0,187.8 286.0,181.4 294.0,167.3 302.0,149.8 310.0,141.5 318.0,135.0 326.0,128.8 334.0,131.9 342.0,127.6 350.0,122.5 358.0,134.6 366.0,152.1 374.0,171.3 382.0,190.7 390.0,210.0 398.0,225.9 406.0,238.3 414.0,248.8 422.0,256.9 430.0,262.1 438.0,250.1 446.0,237.7 454.0,225.0 462.0,222.5 470.0,213.7 478.0,220.1 486.0,227.1 494.0,231.9 502.0,234.2 510.0,241.4 518.0,255.5 526.0,275.9 534.0,297.8 542.0,316.1 550.0,326.5 558.0,323.6 566.0,304.9 574.0,285.7 582.0,268.0 590.0,253.6 598.0,245.4 606.0,239.4 614.0,240.7 622.0,254.0 630.0,262.2 638.0,262.8 646.0,261.6 654.0,257.6 662.0,240.7 670.0,230.2 678.0,218.7 686.0,213.6 694.0,221.5 702.0,237.6 710.0,250.7 718.0,266.3 726.0,289.2 734.0,317.2 742.0,337.6 750.0,366.4 758.0,399.0 766.0,426.6 774.0,420.2 782.0,415.1 790.0,405.6 798.0,397.4 806.0,398.5 814.0,404.5 822.0,408.8 830.0,411.7 838.0,412.2 846.0,410.4 854.0,414.8 862.0,429.0 870.0,446.7 878.0,468.4 886.0,490.0 894.0,508.4 902.0,522.7 910.0,529.7 918.0,533.7 926.0,536.9 934.0,539.8 942.0,529.0 950.0,513.0 958.0,493.3 966.0,470.9 974.0,446.9 982.0,433.0 990.0,422.0 998.0,412.0 1006.0,401.5 1014.0,390.8 1022.0,378.2 1030.0,365.4 1038.0,353.6 1046.0,341.9 1054.0,330.9 1062.0,322.6 1070.0,310.7 1078.0,298.6 1086.0,290.4 1094.0,286.4 1102.0,276.4 1110.0,265.1 1118.0,275.2 1126.0,284.6 1134.0,289.0 1142.0,303.0 1150.0,319.5 1158.0,315.5 1166.0,295.6 1174.0,269.5 1182.0,243.7 1190.0,223.4 1198.0,219.8 1206.0,232.6 1214.0,238.0 1222.0,242.0 1230.0,245.4 1238.0,224.4 1246.0,204.3 1254.0,188.9 1262.0,181.6 1270.0,177.9 1278.0,175.9 1286.0,173.8 1294.0,177.0 1302.0,174.6 1310.0,172.9 1318.0,173.2 1326.0,174.3 1334.0,171.1" fill="none" stroke="#ffa500" stroke-width="1" shape-rendering="crispEdges"/><rect x="11" y="93" width="1669" height="2" fill="#ff0000" shape-rendering="crispEdges"/><rect x="11" y="169" width="1669" height="2" fill="#ff0000" shape-rendering="crispEdges"/><rect x="11" y="252" width="1669" height="2" fill="#00ff00" shape-rendering="crispEdges"/><rect x="11" y="338" width="1669" height="2" fill="#0000cd" shape-rendering="crispEdges"/><rect x="6" y="414" width="1680" height="2" fill="#0000ff" shape-rendering="crispEdges"/></g><rect x="5" y="91" width="6" height="6" fill="#ff0000" shape-rendering="crispEdges"/><rect x="7" y="93" width="2" height="2" fill="#fff" shape-rendering="crispEdges"/><rect x="1680" y="91" width="6" height="6" fill="#ff0000" shape-rendering="crispEdges"/><rect x="1682" y="93" width="2" height="2" fill="#fff" shape-rendering="crispEdges"/><rect x="5" y="167" width="6" height="6" fill="#ff0000" shape-rendering="crispEdges"/><rect x="7" y="169" width="2" height="2" fill="#fff" shape-rendering="crispEdges"/><rect x="1680" y="167" width="6" height="6" fill="#ff0000" shape-rendering="crispEdges"/><rect x="1682" y="169" width="2" height="2" fill="#fff" shape-rendering="crispEdges"/><rect x="5" y="250" width="6" height="6" fill="#00ff00" shape-rendering="crispEdges"/><rect x="7" y="252" width="2" height="2" fill="#fff" shape-rendering="crispEdges"/><rect x="1680" y="250" width="6" height="6" fill="#00ff00" shape-rendering="crispEdges"/><rect x="1682" y="252" width="2" height="2" fill="#fff" shape-rendering="crispEdges"/><rect x="5" y="336" width="6" height="6" fill="#0000cd" shape-rendering="crispEdges"/><rect x="7" y="338" width="2" height="2" fill="#fff" shape-rendering="crispEdges"/><rect x="1680" y="336" width="6" height="6" fill="#0000cd" shape-rendering="crispEdges"/><rect x="1682" y="338" width="2" height="2" fill="#fff" shape-rendering="crispEdges"/><rect x="1688" y="88" width="41" height="11" fill="#ff0000" shape-rendering="crispEdges"/><text x="1692.5" y="96.8" font-family='"Liberation Sans", sans-serif' font-size="10.0" fill="#fff" textLength="32.20" lengthAdjust="spacingAndGlyphs">1.23017</text><rect x="1688" y="151" width="41" height="11" fill="#000000" shape-rendering="crispEdges"/><text x="1692.5" y="159.8" font-family='"Liberation Sans", sans-serif' font-size="10.0" fill="#fff" textLength="32.20" lengthAdjust="spacingAndGlyphs">1.22262</text><rect x="1688" y="164" width="41" height="11" fill="#ff0000" shape-rendering="crispEdges"/><text x="1692.5" y="172.8" font-family='"Liberation Sans", sans-serif' font-size="10.0" fill="#fff" textLength="32.20" lengthAdjust="spacingAndGlyphs">1.22085</text><rect x="1688" y="247" width="41" height="11" fill="#00ff00" shape-rendering="crispEdges"/><text x="1692.5" y="255.8" font-family='"Liberation Sans", sans-serif' font-size="10.0" fill="#fff" textLength="32.20" lengthAdjust="spacingAndGlyphs">1.21062</text><rect x="1688" y="333" width="41" height="11" fill="#0000cd" shape-rendering="crispEdges"/><text x="1692.5" y="341.8" font-family='"Liberation Sans", sans-serif' font-size="10.0" fill="#fff" textLength="32.20" lengthAdjust="spacingAndGlyphs">1.20010</text><rect x="1688" y="409" width="41" height="11" fill="#0000ff" shape-rendering="crispEdges"/><text x="1692.5" y="417.8" font-family='"Liberation Sans", sans-serif' font-size="10.0" fill="#fff" textLength="32.20" lengthAdjust="spacingAndGlyphs">1.19078</text><path d="M9 35 L16 35 L12.5 39 Z" fill="#000"/><text x="21.3" y="40" font-family='"Liberation Sans", sans-serif' font-size="10.0" fill="#000" textLength="63.2" lengthAdjust="spacingAndGlyphs">EURUSD,Daily</text><text x="91.4" y="40" font-family='"Liberation Sans", sans-serif' font-size="10.0" fill="#000" textLength="140" lengthAdjust="spacingAndGlyphs">1.22286 1.22358 1.22230 1.22262</text><g clip-path="url(#cr)"><line x1="6" y1="629.5" x2="1686" y2="629.5" stroke="#c0c0c0" stroke-dasharray="3,3" stroke-dashoffset="-1" shape-rendering="crispEdges"/><line x1="6" y1="670.5" x2="1686" y2="670.5" stroke="#c0c0c0" stroke-dasharray="3,3" stroke-dashoffset="-1" shape-rendering="crispEdges"/><polyline points="6,640.4 14,640.4 22,645.4 30,644.2 38,643.2 46,649.1 54,641.9 62,640.4 70,640.4 78,636.2 86,634.4 94,634.4 102,628.7 110,625.0 118,621.2 126,624.2 134,625.4 142,626.7 150,629.9 158,634.4 166,629.9 174,634.4 182,634.4 190,633.2 198,630.4 206,627.9 214,624.2 222,625.4 230,625.4 238,631.2 246,638.2 254,636.9 262,636.9 270,636.9 278,633.2 286,629.9 294,625.4 302,636.2 310,641.2 318,635.4 326,635.4 334,634.4 342,638.2 350,639.2 358,644.9 366,654.4 374,653.6 382,653.6 390,656.9 398,661.1 406,663.1 414,663.1 422,654.4 430,657.2 438,650.4 446,647.4 454,648.1 462,653.1 470,648.6 478,656.9 486,653.6 494,649.4 502,651.6 510,656.1 518,661.9 526,663.6 534,666.1 542,660.4 550,657.4 558,657.4 566,649.9 574,646.6 582,646.6 590,647.4 598,648.6 606,646.6 614,648.6 622,659.4 630,653.6 638,646.9 646,648.6 654,645.4 662,643.2 670,648.6 678,638.2 686,648.1 694,652.9 702,656.1 710,654.4 718,653.6 726,656.1 734,666.1 742,666.1 750,669.4 758,665.4 766,664.4 774,657.9 782,658.6 790,657.4 798,660.4 806,662.4 814,660.6 822,657.4 830,659.1 838,659.4 846,656.6 854,661.5 862,664.9 870,669.4 878,666.1 886,667.4 894,667.9 902,671.9 910,669.4 918,664.4 926,663.1 934,664.4 942,657.9 950,651.9 958,646.2 966,644.4 974,645.4 982,645.4 990,644.4 998,640.4 1006,636.2 1014,638.2 1022,636.2 1030,636.2 1038,631.9 1046,629.2 1054,631.7 1062,636.2 1070,630.4 1078,628.7 1086,630.4 1094,631.2 1102,629.4 1110,628.7 1118,643.7 1126,645.4 1134,640.7 1142,648.1 1150,649.4 1158,643.7 1166,632.9 1174,632.4 1182,632.4 1190,632.4 1198,646.2 1206,647.4 1214,641.2 1222,639.4 1230,638.7 1238,634.9 1246,633.7 1254,632.9 1262,639.9 1270,639.2 1278,636.2 1286,634.4 1294,638.2 1302,641.2 1310,641.2 1318,639.9 1326,636.2 1334,637.4" fill="none" stroke="#1e90ff" stroke-width="1" shape-rendering="crispEdges"/></g><text x="10" y="610" font-family='"Liberation Sans", sans-serif' font-size="10.0" fill="#000" textLength="67.55" lengthAdjust="spacingAndGlyphs">RSI(14) 62.5998</text><rect x="1687" y="599" width="3" height="1" fill="#000" shape-rendering="crispEdges"/><text x="1690" y="608" font-family='"Liberation Sans", sans-serif' font-size="10.0" fill="#000" textLength="15.01" lengthAdjust="spacingAndGlyphs">100</text><rect x="1687" y="629" width="3" height="1" fill="#000" shape-rendering="crispEdges"/><text x="1690" y="633" font-family='"Liberation Sans", sans-serif' font-size="10.0" fill="#000" textLength="10.01" lengthAdjust="spacingAndGlyphs">70</text><rect x="1687" y="670" width="3" height="1" fill="#000" shape-rendering="crispEdges"/><text x="1690" y="674" font-family='"Liberation Sans", sans-serif' font-size="10.0" fill="#000" textLength="10.01" lengthAdjust="spacingAndGlyphs">30</text><rect x="1687" y="700" width="3" height="1" fill="#000" shape-rendering="crispEdges"/><text x="1690" y="698" font-family='"Liberation Sans", sans-serif' font-size="10.0" fill="#000" textLength="5.00" lengthAdjust="spacingAndGlyphs">0</text><g clip-path="url(#cd)"><g shape-rendering="crispEdges" fill="#c0c0c0"><rect x="6" y="749" width="1" height="12"/><rect x="14" y="747" width="1" height="14"/><rect x="22" y="747" width="1" height="14"/><rect x="30" y="747" width="1" height="14"/><rect x="38" y="747" width="1" height="14"/><rect x="46" y="749" width="1" height="12"/><rect x="54" y="747" width="1" height="14"/><rect x="62" y="747" width="1" height="14"/><rect x="70" y="744" width="1" height="17"/><rect x="78" y="742" width="1" height="19"/><rect x="86" y="739" width="1" height="22"/><rect x="94" y="737" width="1" height="24"/><rect x="102" y="732" width="1" height="29"/><rect x="110" y="727" width="1" height="34"/><rect x="118" y="720" width="1" height="41"/><rect x="126" y="716" width="1" height="45"/><rect x="134" y="715" width="1" height="46"/><rect x="142" y="716" width="1" height="45"/><rect x="150" y="716" width="1" height="45"/><rect x="158" y="716" width="1" height="45"/><rect x="166" y="713" width="1" height="48"/><rect x="174" y="715" width="1" height="46"/><rect x="182" y="716" width="1" height="45"/><rect x="190" y="717" width="1" height="44"/><rect x="198" y="717" width="1" height="44"/><rect x="206" y="716" width="1" height="45"/><rect x="214" y="713" width="1" height="48"/><rect x="222" y="712" width="1" height="49"/><rect x="230" y="711" width="1" height="50"/><rect x="238" y="713" width="1" height="48"/><rect x="246" y="716" width="1" height="45"/><rect x="254" y="720" width="1" height="41"/><rect x="262" y="721" width="1" height="40"/><rect x="270" y="724" width="1" height="37"/><rect x="278" y="725" width="1" height="36"/><rect x="286" y="725" width="1" height="36"/><rect x="294" y="722" width="1" height="39"/><rect x="302" y="724" width="1" height="37"/><rect x="310" y="726" width="1" height="35"/><rect x="318" y="726" width="1" height="35"/><rect x="326" y="726" width="1" height="35"/><rect x="334" y="726" width="1" height="35"/><rect x="342" y="728" width="1" height="33"/><rect x="350" y="730" width="1" height="31"/><rect x="358" y="733" width="1" height="28"/><rect x="366" y="740" width="1" height="21"/><rect x="374" y="744" width="1" height="17"/><rect x="382" y="748" width="1" height="13"/><rect x="390" y="752" width="1" height="9"/><rect x="398" y="758" width="1" height="3"/><rect x="406" y="760" width="1" height="1"/><rect x="414" y="760" width="1" height="7"/><rect x="422" y="760" width="1" height="7"/><rect x="430" y="760" width="1" height="9"/><rect x="438" y="760" width="1" height="8"/><rect x="446" y="760" width="1" height="5"/><rect x="454" y="760" width="1" height="5"/><rect x="462" y="760" width="1" height="5"/><rect x="470" y="760" width="1" height="3"/><rect x="478" y="760" width="1" height="6"/><rect x="486" y="760" width="1" height="6"/><rect x="494" y="760" width="1" height="5"/><rect x="502" y="760" width="1" height="5"/><rect x="510" y="760" width="1" height="6"/><rect x="518" y="760" width="1" height="12"/><rect x="526" y="760" width="1" height="16"/><rect x="534" y="760" width="1" height="20"/><rect x="542" y="760" width="1" height="21"/><rect x="550" y="760" width="1" height="21"/><rect x="558" y="760" width="1" height="20"/><rect x="566" y="760" width="1" height="15"/><rect x="574" y="760" width="1" height="13"/><rect x="582" y="760" width="1" height="10"/><rect x="590" y="760" width="1" height="8"/><rect x="598" y="760" width="1" height="6"/><rect x="606" y="760" width="1" height="5"/><rect x="614" y="760" width="1" height="3"/><rect x="622" y="760" width="1" height="6"/><rect x="630" y="760" width="1" height="6"/><rect x="638" y="760" width="1" height="4"/><rect x="646" y="760" width="1" height="3"/><rect x="654" y="760" width="1" height="2"/><rect x="662" y="759" width="1" height="2"/><rect x="670" y="759" width="1" height="2"/><rect x="678" y="754" width="1" height="7"/><rect x="686" y="754" width="1" height="7"/><rect x="694" y="757" width="1" height="4"/><rect x="702" y="759" width="1" height="2"/><rect x="710" y="760" width="1" height="3"/><rect x="718" y="760" width="1" height="3"/><rect x="726" y="760" width="1" height="6"/><rect x="734" y="760" width="1" height="15"/><rect x="742" y="760" width="1" height="20"/><rect x="750" y="760" width="1" height="28"/><rect x="758" y="760" width="1" height="31"/><rect x="766" y="760" width="1" height="33"/><rect x="774" y="760" width="1" height="33"/><rect x="782" y="760" width="1" height="31"/><rect x="790" y="760" width="1" height="30"/><rect x="798" y="760" width="1" height="30"/><rect x="806" y="760" width="1" height="30"/><rect x="814" y="760" width="1" height="31"/><rect x="822" y="760" width="1" height="31"/><rect x="830" y="760" width="1" height="30"/><rect x="838" y="760" width="1" height="27"/><rect x="846" y="760" width="1" height="26"/><rect x="854" y="760" width="1" height="27"/><rect x="862" y="760" width="1" height="29"/><rect x="870" y="760" width="1" height="33"/><rect x="878" y="760" width="1" height="35"/><rect x="886" y="760" width="1" height="36"/><rect x="894" y="760" width="1" height="38"/><rect x="902" y="760" width="1" height="41"/><rect x="910" y="760" width="1" height="42"/><rect x="918" y="760" width="1" height="41"/><rect x="926" y="760" width="1" height="37"/><rect x="934" y="760" width="1" height="37"/><rect x="942" y="760" width="1" height="35"/><rect x="950" y="760" width="1" height="30"/><rect x="958" y="760" width="1" height="24"/><rect x="966" y="760" width="1" height="19"/><rect x="974" y="760" width="1" height="14"/><rect x="982" y="760" width="1" height="11"/><rect x="990" y="760" width="1" height="7"/><rect x="998" y="760" width="1" height="3"/><rect x="1006" y="758" width="1" height="3"/><rect x="1014" y="755" width="1" height="6"/><rect x="1022" y="752" width="1" height="9"/><rect x="1030" y="749" width="1" height="12"/><rect x="1038" y="745" width="1" height="16"/><rect x="1046" y="741" width="1" height="20"/><rect x="1054" y="739" width="1" height="22"/><rect x="1062" y="739" width="1" height="22"/><rect x="1070" y="736" width="1" height="25"/><rect x="1078" y="733" width="1" height="28"/><rect x="1086" y="731" width="1" height="30"/><rect x="1094" y="731" width="1" height="30"/><rect x="1102" y="730" width="1" height="31"/><rect x="1110" y="728" width="1" height="33"/><rect x="1118" y="732" width="1" height="29"/><rect x="1126" y="735" width="1" height="26"/><rect x="1134" y="736" width="1" height="25"/><rect x="1142" y="739" width="1" height="22"/><rect x="1150" y="743" width="1" height="18"/><rect x="1158" y="743" width="1" height="18"/><rect x="1166" y="739" width="1" height="22"/><rect x="1174" y="735" width="1" height="26"/><rect x="1182" y="733" width="1" height="28"/><rect x="1190" y="731" width="1" height="30"/><rect x="1198" y="734" width="1" height="27"/><rect x="1206" y="737" width="1" height="24"/><rect x="1214" y="737" width="1" height="24"/><rect x="1222" y="737" width="1" height="24"/><rect x="1230" y="735" width="1" height="26"/><rect x="1238" y="734" width="1" height="27"/><rect x="1246" y="732" width="1" height="29"/><rect x="1254" y="730" width="1" height="31"/><rect x="1262" y="731" width="1" height="30"/><rect x="1270" y="732" width="1" height="29"/><rect x="1278" y="732" width="1" height="29"/><rect x="1286" y="732" width="1" height="29"/><rect x="1294" y="732" width="1" height="29"/><rect x="1302" y="734" width="1" height="27"/><rect x="1310" y="736" width="1" height="25"/><rect x="1318" y="737" width="1" height="24"/><rect x="1326" y="737" width="1" height="24"/><rect x="1334" y="737" width="1" height="24"/></g><polyline points="6,752.4 14,751.4 22,750.4 30,749.4 38,749.0 46,748.7 54,747.8 62,746.9 70,745.9 78,744.9 86,743.9 94,742.9 102,741.9 110,738.4 118,734.9 126,732.1 134,729.4 142,725.3 150,721.2 158,718.4 166,715.5 174,713.8 182,712.0 190,712.2 198,712.5 206,712.7 214,712.8 222,713.0 230,713.2 238,713.5 246,713.7 254,714.1 262,714.6 270,715.0 278,716.0 286,717.0 294,718.0 302,719.6 310,721.2 318,722.0 326,722.9 334,723.7 342,724.4 350,725.0 358,726.5 366,728.0 374,729.9 382,731.8 390,733.7 398,738.0 406,742.4 414,746.8 422,751.2 430,754.4 438,759.4 446,761.1 454,762.9 462,763.9 470,764.9 478,765.1 486,765.2 494,765.4 502,765.6 510,765.9 518,766.1 526,767.8 534,769.4 542,771.1 550,772.9 558,774.1 566,775.4 574,775.8 582,776.1 590,775.8 598,775.4 606,773.6 614,771.9 622,769.9 630,767.9 638,766.6 646,765.4 654,764.1 662,762.9 670,761.8 678,760.6 686,760.0 694,759.4 702,758.8 710,758.1 718,758.6 726,759.1 734,761.1 742,764.0 750,766.9 758,770.6 766,774.4 774,778.1 782,781.9 790,784.6 798,787.3 806,788.5 814,789.8 822,790.0 830,790.3 838,789.8 846,789.3 854,788.3 862,787.8 870,788.5 878,789.3 886,789.5 894,789.8 902,792.0 910,794.3 918,795.2 926,796.1 934,796.7 942,797.3 950,796.7 958,796.1 966,793.6 974,791.1 982,787.4 990,783.6 998,779.2 1006,774.9 1014,770.1 1022,765.4 1030,762.0 1038,758.6 1046,754.9 1054,751.2 1062,747.8 1070,744.4 1078,742.4 1086,740.4 1094,737.6 1102,734.9 1110,733.6 1118,732.4 1126,731.8 1134,731.2 1142,732.5 1150,733.7 1158,734.5 1166,735.4 1174,736.0 1182,736.7 1190,736.7 1198,736.7 1206,736.7 1214,736.1 1222,735.5 1230,734.9 1238,734.3 1246,733.8 1254,733.2 1262,733.2 1270,733.2 1278,733.2 1286,732.4 1294,731.2 1302,731.2 1310,731.2 1318,731.9 1326,732.5 1334,733.2" fill="none" stroke="#ff0000" stroke-width="1" stroke-dasharray="3,3" shape-rendering="crispEdges"/></g><text x="10" y="716" font-family='"Liberation Sans", sans-serif' font-size="10.0" fill="#000" textLength="148.01" lengthAdjust="spacingAndGlyphs">MACD(12,26,9) 0.004103 0.004561</text><rect x="1687" y="705" width="3" height="1" fill="#000" shape-rendering="crispEdges"/><text x="1690" y="714.7" font-family='"Liberation Sans", sans-serif' font-size="10.0" fill="#000" textLength="38.28" lengthAdjust="spacingAndGlyphs">0.009478</text><rect x="1687" y="760" width="3" height="1" fill="#000" shape-rendering="crispEdges"/><text x="1690" y="764" font-family='"Liberation Sans", sans-serif' font-size="10.0" fill="#000" textLength="17.87" lengthAdjust="spacingAndGlyphs">0.00</text><rect x="1687" y="805" width="3" height="1" fill="#000" shape-rendering="crispEdges"/><text x="1690" y="803" font-family='"Liberation Sans", sans-serif' font-size="10.0" fill="#000" textLength="41.34" lengthAdjust="spacingAndGlyphs">-0.007778</text><rect x="6" y="807" width="1" height="3" fill="#000" shape-rendering="crispEdges"/><text x="5.5" y="819" font-family='"Liberation Sans", sans-serif' font-size="10.0" fill="#000" textLength="53.08" lengthAdjust="spacingAndGlyphs">17 Nov 2020</text><rect x="70" y="807" width="1" height="3" fill="#000" shape-rendering="crispEdges"/><text x="69.5" y="819" font-family='"Liberation Sans", sans-serif' font-size="10.0" fill="#000" textLength="53.08" lengthAdjust="spacingAndGlyphs">26 Nov 2020</text><rect x="134" y="807" width="1" height="3" fill="#000" shape-rendering="crispEdges"/><text x="133.5" y="819" font-family='"Liberation Sans", sans-serif' font-size="10.0" fill="#000" textLength="47.87" lengthAdjust="spacingAndGlyphs">5 Dec 2020</text><rect x="198" y="807" width="1" height="3" fill="#000" shape-rendering="crispEdges"/><text x="197.5" y="819" font-family='"Liberation Sans", sans-serif' font-size="10.0" fill="#000" textLength="53.08" lengthAdjust="spacingAndGlyphs">15 Dec 2020</text><rect x="262" y="807" width="1" height="3" fill="#000" shape-rendering="crispEdges"/><text x="261.5" y="819" font-family='"Liberation Sans", sans-serif' font-size="10.0" fill="#000" textLength="53.08" lengthAdjust="spacingAndGlyphs">24 Dec 2020</text><rect x="326" y="807" width="1" height="3" fill="#000" shape-rendering="crispEdges"/><text x="325.5" y="819" font-family='"Liberation Sans", sans-serif' font-size="10.0" fill="#000" textLength="46.32" lengthAdjust="spacingAndGlyphs">5 Jan 2021</text><rect x="390" y="807" width="1" height="3" fill="#000" shape-rendering="crispEdges"/><text x="389.5" y="819" font-family='"Liberation Sans", sans-serif' font-size="10.0" fill="#000" textLength="51.52" lengthAdjust="spacingAndGlyphs">14 Jan 2021</text><rect x="454" y="807" width="1" height="3" fill="#000" shape-rendering="crispEdges"/><text x="453.5" y="819" font-family='"Liberation Sans", sans-serif' font-size="10.0" fill="#000" textLength="51.52" lengthAdjust="spacingAndGlyphs">23 Jan 2021</text><rect x="518" y="807" width="1" height="3" fill="#000" shape-rendering="crispEdges"/><text x="517.5" y="819" font-family='"Liberation Sans", sans-serif' font-size="10.0" fill="#000" textLength="47.35" lengthAdjust="spacingAndGlyphs">2 Feb 2021</text><rect x="582" y="807" width="1" height="3" fill="#000" shape-rendering="crispEdges"/><text x="581.5" y="819" font-family='"Liberation Sans", sans-serif' font-size="10.0" fill="#000" textLength="51.86" lengthAdjust="spacingAndGlyphs">11 Feb 2021</text><rect x="646" y="807" width="1" height="3" fill="#000" shape-rendering="crispEdges"/><text x="645.5" y="819" font-family='"Liberation Sans", sans-serif' font-size="10.0" fill="#000" textLength="52.56" lengthAdjust="spacingAndGlyphs">20 Feb 2021</text><rect x="710" y="807" width="1" height="3" fill="#000" shape-rendering="crispEdges"/><text x="709.5" y="819" font-family='"Liberation Sans", sans-serif' font-size="10.0" fill="#000" textLength="47.34" lengthAdjust="spacingAndGlyphs">2 Mar 2021</text><rect x="774" y="807" width="1" height="3" fill="#000" shape-rendering="crispEdges"/><text x="773.5" y="819" font-family='"Liberation Sans", sans-serif' font-size="10.0" fill="#000" textLength="51.85" lengthAdjust="spacingAndGlyphs">11 Mar 2021</text><rect x="838" y="807" width="1" height="3" fill="#000" shape-rendering="crispEdges"/><text x="837.5" y="819" font-family='"Liberation Sans", sans-serif' font-size="10.0" fill="#000" textLength="52.55" lengthAdjust="spacingAndGlyphs">20 Mar 2021</text><rect x="902" y="807" width="1" height="3" fill="#000" shape-rendering="crispEdges"/><text x="901.5" y="819" font-family='"Liberation Sans", sans-serif' font-size="10.0" fill="#000" textLength="52.55" lengthAdjust="spacingAndGlyphs">30 Mar 2021</text><rect x="966" y="807" width="1" height="3" fill="#000" shape-rendering="crispEdges"/><text x="965.5" y="819" font-family='"Liberation Sans", sans-serif' font-size="10.0" fill="#000" textLength="45.27" lengthAdjust="spacingAndGlyphs">8 Apr 2021</text><rect x="1030" y="807" width="1" height="3" fill="#000" shape-rendering="crispEdges"/><text x="1029.5" y="819" font-family='"Liberation Sans", sans-serif' font-size="10.0" fill="#000" textLength="50.48" lengthAdjust="spacingAndGlyphs">17 Apr 2021</text><rect x="1094" y="807" width="1" height="3" fill="#000" shape-rendering="crispEdges"/><text x="1093.5" y="819" font-family='"Liberation Sans", sans-serif' font-size="10.0" fill="#000" textLength="50.48" lengthAdjust="spacingAndGlyphs">27 Apr 2021</text><rect x="1158" y="807" width="1" height="3" fill="#000" shape-rendering="crispEdges"/><text x="1157.5" y="819" font-family='"Liberation Sans", sans-serif' font-size="10.0" fill="#000" textLength="48.91" lengthAdjust="spacingAndGlyphs">6 May 2021</text><rect x="1222" y="807" width="1" height="3" fill="#000" shape-rendering="crispEdges"/><text x="1221.5" y="819" font-family='"Liberation Sans", sans-serif' font-size="10.0" fill="#000" textLength="54.11" lengthAdjust="spacingAndGlyphs">15 May 2021</text><rect x="1286" y="807" width="1" height="3" fill="#000" shape-rendering="crispEdges"/><text x="1285.5" y="819" font-family='"Liberation Sans", sans-serif' font-size="10.0" fill="#000" textLength="54.11" lengthAdjust="spacingAndGlyphs">25 May 2021</text><g shape-rendering="crispEdges"><rect x="0" y="829" width="1731" height="1" fill="#000"/><rect x="0" y="830" width="1731" height="18" fill="#f0f0f0"/><rect x="1" y="830" width="1" height="18" fill="#a0a0a0"/><rect x="2" y="830" width="1" height="18" fill="#696969"/><rect x="0" y="848" width="1731" height="1" fill="#f0f0f0"/><rect x="0" y="849" width="1731" height="2" fill="#fafafa"/><rect x="0" y="851" width="1731" height="1" fill="#f0f0f0"/><rect x="0" y="852" width="1731" height="2" fill="#a0a0a0"/><rect x="211" y="829" width="104" height="19" fill="#000"/><rect x="212" y="827" width="102" height="20" fill="#fff"/><rect x="210" y="830" width="1" height="18" fill="#ffffff"/><rect x="107" y="832" width="1" height="14" fill="#6d6d6d"/><rect x="419" y="832" width="1" height="14" fill="#6d6d6d"/><rect x="523" y="832" width="1" height="14" fill="#6d6d6d"/><rect x="615" y="832" width="1" height="14" fill="#6d6d6d"/><rect x="687" y="832" width="1" height="14" fill="#6d6d6d"/></g><text x="17.2" y="843.6" font-family='"Liberation Sans", sans-serif' font-size="12" fill="#6d6d6d">USDCHF,Daily</text><text x="117.3" y="843.6" font-family='"Liberation Sans", sans-serif' font-size="12" fill="#6d6d6d">USDCNH,Daily</text><text x="223.5" y="843.6" font-family='"Liberation Sans", sans-serif' font-size="12" fill="#000">EURUSD,Daily</text><text x="326.2" y="843.6" font-family='"Liberation Sans", sans-serif' font-size="12" fill="#6d6d6d">AUDUSD,Daily</text><text x="430.5" y="843.6" font-family='"Liberation Sans", sans-serif' font-size="12" fill="#6d6d6d">USDCAD,Daily</text><text x="534.2" y="843.6" font-family='"Liberation Sans", sans-serif' font-size="12" fill="#6d6d6d">XAUUSD,H1</text><text x="625.2" y="843.6" font-family='"Liberation Sans", sans-serif' font-size="12" fill="#6d6d6d">USOil,H1</text><path d="M1705 835 L1705 841 L1702 838 Z" fill="#a0a0a0"/><path d="M1721 835 L1721 841 L1724 838 Z" fill="#a0a0a0"/></svg>
</body></html>
